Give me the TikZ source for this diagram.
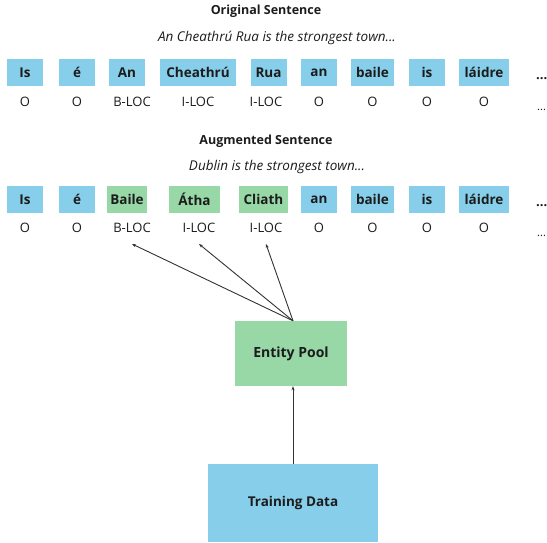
\documentclass[tikz,border=0pt]{standalone}
\usepackage{fontspec}
\setmainfont{Open Sans}
\usetikzlibrary{positioning,arrows.meta}
\definecolor{tokblue}{RGB}{135,206,235}
\definecolor{entgreen}{RGB}{152,216,166}
\definecolor{inkgray}{RGB}{28,28,28}
\definecolor{arrowgray}{RGB}{50,50,50}

\begin{document}
\begin{tikzpicture}[
  x=1pt, y=-1pt,
  tok/.style={fill=tokblue, minimum height=27pt, minimum width=36pt,
    inner xsep=3pt, text=inkgray, font=\fontsize{13.5}{15}\selectfont\bfseries},
  ent/.style={tok, fill=entgreen},
  tag/.style={text=inkgray, inner ysep=11pt, font=\fontsize{13}{15}\selectfont},
  title/.style={text=inkgray, font=\fontsize{12.5}{14}\selectfont\bfseries},
  sub/.style={text=inkgray, font=\fontsize{13.5}{15}\selectfont\itshape},
  block/.style={text=inkgray, font=\fontsize{14}{16}\selectfont\bfseries},
  more/.style={anchor=base west, text=inkgray, inner sep=0pt},
  arr/.style={-{Stealth[length=4pt, width=3pt]}, arrowgray, line width=0.9pt},
]
  \useasboundingbox (0,0) rectangle (547,542);

  % Original sentence
  \node[title] (otitle) at (266,11) {Original Sentence};
  \node[sub] (osub) at (277,38) {An Cheathrú Rua is the strongest town...};

  \node[tok] (o1) at (25,72.5) {Is};
  \node[tok] (o2) at (77,72.5) {é};
  \node[tok] (o3) at (127,72.5) {An};
  \node[tok, minimum width=76pt] (o4) at (198,72.5) {Cheathrú};
  \node[tok] (o5) at (268.5,72.5) {Rua};
  \node[tok] (o6) at (319,72.5) {an};
  \node[tok, minimum width=43pt] (o7) at (372.5,72.5) {baile};
  \node[tok] (o8) at (427,72.5) {is};
  \node[tok, minimum width=50pt] (o9) at (484,72.5) {láidre};
  \node[more, font=\fontsize{13}{15}\selectfont\bfseries] (omore) at (536,79) {...};

  \node[tag] (ot1) at (25,102) {O};
  \node[tag] (ot2) at (77,102) {O};
  \node[tag] (ot3) at (132,102) {B-LOC};
  \node[tag] (ot4) at (198,102) {I-LOC};
  \node[tag] (ot5) at (266,102) {I-LOC};
  \node[tag] (ot6) at (319,102) {O};
  \node[tag] (ot7) at (372.5,102) {O};
  \node[tag] (ot8) at (427,102) {O};
  \node[tag] (ot9) at (484,102) {O};
  \node[more, font=\fontsize{11}{13}\selectfont] (otmore) at (537,110) {...};

  % Augmented sentence
  \node[title] (atitle) at (266,141.5) {Augmented Sentence};
  \node[sub] (asub) at (277,166.5) {Dublin is the strongest town...};

  \node[tok] (a1) at (25,199.5) {Is};
  \node[tok] (a2) at (77,199.5) {é};
  \node[ent] (a3) at (127,199.5) {Baile};
  \node[ent, minimum width=51pt] (a4) at (194.5,199.5) {Átha};
  \node[ent, minimum width=49pt] (a5) at (263.5,199.5) {Cliath};
  \node[tok] (a6) at (319,199.5) {an};
  \node[tok, minimum width=43pt] (a7) at (372.5,199.5) {baile};
  \node[tok] (a8) at (427,199.5) {is};
  \node[tok, minimum width=50pt] (a9) at (484,199.5) {láidre};
  \node[more, font=\fontsize{13}{15}\selectfont\bfseries] (amore) at (536,206) {...};

  \node[tag] (at1) at (25,228) {O};
  \node[tag] (at2) at (77,228) {O};
  \node[tag] (at3) at (132,228) {B-LOC};
  \node[tag] (at4) at (199,228) {I-LOC};
  \node[tag] (at5) at (266,228) {I-LOC};
  \node[tag] (at6) at (319,228) {O};
  \node[tag] (at7) at (372.5,228) {O};
  \node[tag] (at8) at (427,228) {O};
  \node[tag] (at9) at (484,228) {O};
  \node[more, font=\fontsize{11}{13}\selectfont] (atmore) at (537,236) {...};

  % Pool and source data
  \node[block, fill=entgreen, minimum width=112pt, minimum height=65pt]
    (pool) at (291,353.5) {Entity Pool};
  \node[block, fill=tokblue, minimum width=170pt, minimum height=78pt,
    font=\fontsize{13.5}{16}\selectfont\bfseries]
    (train) at (293,503) {Training Data};

  \draw[arr] ([xshift=2pt]pool.north) -- (at3.south);
  \draw[arr] ([xshift=2pt]pool.north) -- (at4.south);
  \draw[arr] ([xshift=2pt]pool.north) -- (at5.south);
  \draw[arr] (train.north) -- (train.north |- pool.south);
\end{tikzpicture}
\end{document}
